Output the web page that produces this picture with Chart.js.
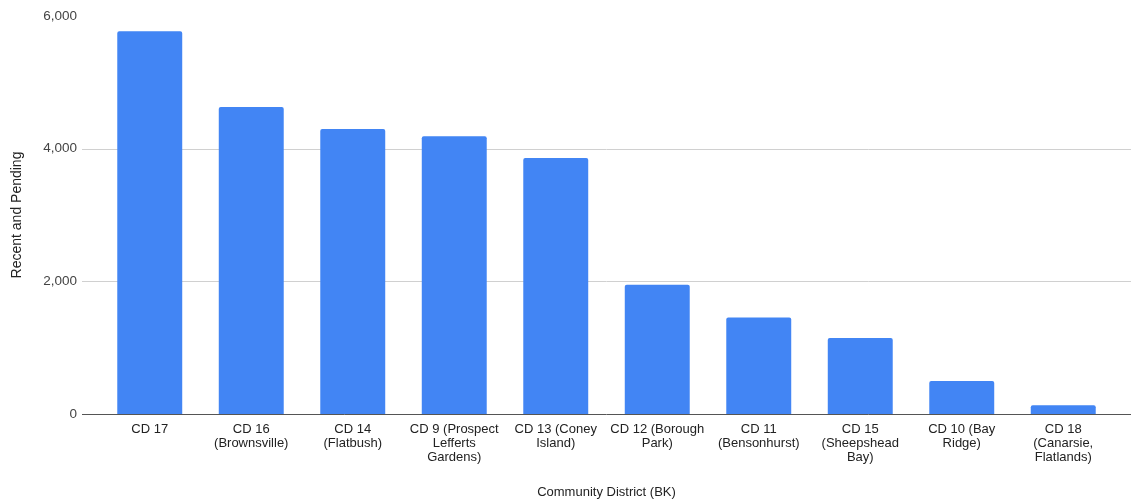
<!DOCTYPE html>
<html>
<head>
<meta charset="utf-8">
<script src="https://cdn.jsdelivr.net/npm/chart.js@4/dist/chart.umd.min.js"></script>
<style>
  html, body { margin: 0; padding: 0; background: #fff; }
  #wrap { width: 1131px; height: 504px; }
</style>
</head>
<body>
<div id="wrap"><canvas id="districtChart"></canvas></div>
<script>
const districts = [
  ["CD 17"],
  ["CD 16", "(Brownsville)"],
  ["CD 14", "(Flatbush)"],
  ["CD 9 (Prospect", "Lefferts", "Gardens)"],
  ["CD 13 (Coney", "Island)"],
  ["CD 12 (Borough", "Park)"],
  ["CD 11", "(Bensonhurst)"],
  ["CD 15", "(Sheepshead", "Bay)"],
  ["CD 10 (Bay", "Ridge)"],
  ["CD 18", "(Canarsie,", "Flatlands)"]
];
const recentPending = [5770, 4630, 4297, 4186, 3860, 1947, 1454, 1147, 498, 131];
const yTicks = [0, 2000, 4000, 6000];

// gridlines run a bit past the plot, like the original sheet chart
const gridPlugin = {
  id: "grid",
  beforeDatasetsDraw(chart) {
    const { ctx, chartArea, scales } = chart;
    ctx.save();
    ctx.strokeStyle = "#d0d0d0";
    ctx.lineWidth = 1;
    yTicks.forEach(v => {
      if (v === 0 || v === 6000) return;
      const y = Math.round(scales.y.getPixelForValue(v)) + 0.5;
      ctx.beginPath();
      ctx.moveTo(chartArea.left - 17, y);
      ctx.lineTo(chartArea.right + 17, y);
      ctx.stroke();
    });
    ctx.restore();
  },
  afterDatasetsDraw(chart) {
    const { ctx, chartArea, scales } = chart;
    const y = Math.round(scales.y.getPixelForValue(0)) + 0.5;
    ctx.save();
    ctx.strokeStyle = "#555";
    ctx.lineWidth = 1;
    ctx.beginPath();
    ctx.moveTo(chartArea.left - 17, y);
    ctx.lineTo(chartArea.right + 17, y);
    ctx.stroke();
    ctx.restore();
  }
};

Chart.defaults.font.family = "'Liberation Sans', Arial, sans-serif";
Chart.defaults.font.size = 13;

const ctx = document.getElementById("districtChart").getContext("2d");

const chart = new Chart(ctx, {
  type: "bar",
  data: {
    labels: districts,
    datasets: [{
      label: "Recent and Pending",
      data: recentPending,
      backgroundColor: "#4285f4",
      borderRadius: 2,
      borderSkipped: "bottom",
      categoryPercentage: 0.64,
      barPercentage: 1
    }]
  },
  options: {
    responsive: true,
    maintainAspectRatio: false,
    animation: false,
    layout: { padding: { top: 16, right: 17, bottom: 0, left: 0 } },
    plugins: {
      legend: { display: false },
      tooltip: { enabled: false }
    },
    scales: {
      x: {
        grid: { display: false, drawTicks: false },
        border: { display: false },
        ticks: {
          color: "#222",
          padding: 8,
          maxRotation: 0,
          autoSkip: false,
          font: { size: 13, lineHeight: 1.08 }
        },
        title: {
          display: true,
          text: "Community District (BK)",
          color: "#222",
          font: { size: 13 },
          padding: { top: 0, bottom: 4 }
        },
        afterFit: s => { s.height = 90; }
      },
      y: {
        min: 0,
        max: 6000,
        afterBuildTicks: s => { s.ticks = yTicks.map(v => ({ value: v })); },
        grid: { display: false, drawTicks: false },
        border: { display: false },
        ticks: {
          color: "#444",
          padding: 22,
          font: { size: 13.5 }
        },
        title: {
          display: true,
          text: "Recent and Pending",
          color: "#222",
          font: { size: 14 },
          padding: { top: 9, bottom: 0 }
        },
        afterFit: s => {
          s.width = 99;
          s.paddingTop = 0;
          s.paddingBottom = 0;
        }
      }
    }
  },
  plugins: [gridPlugin]
});
</script>
</body>
</html>
